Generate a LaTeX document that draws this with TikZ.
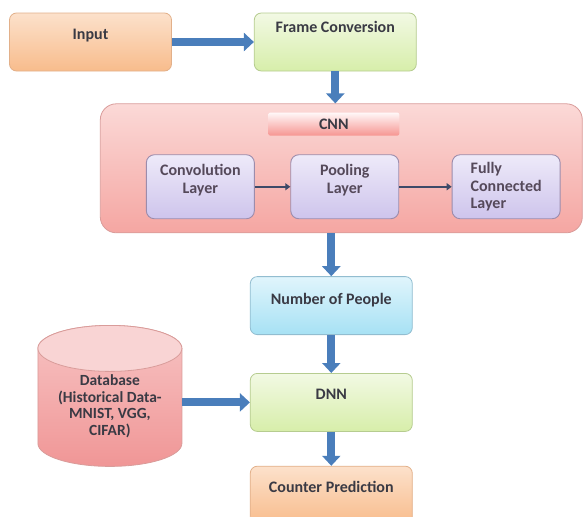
\documentclass[tikz,border=0pt]{standalone}
\usepackage{fontspec}
\setmainfont{Carlito}
\usetikzlibrary{positioning}
\usetikzlibrary{arrows.meta}
\usetikzlibrary{backgrounds}
\definecolor{textgray}{HTML}{3A3A44}
\definecolor{layertext}{HTML}{55495A}
\definecolor{flowblue}{HTML}{4A7EBB}
\definecolor{linkgray}{HTML}{3E4A68}
\definecolor{peachtop}{HTML}{FCE1CB}
\definecolor{peachbot}{HTML}{F8BC8C}
\definecolor{peachline}{HTML}{E2B08A}
\definecolor{greentop}{HTML}{F2F9E4}
\definecolor{greenbot}{HTML}{D7EEAA}
\definecolor{greenline}{HTML}{B6CC90}
\definecolor{skytop}{HTML}{E0F5FC}
\definecolor{skybot}{HTML}{A6E1F4}
\definecolor{skyline}{HTML}{92BDD0}
\definecolor{pinktop}{HTML}{FBD9D7}
\definecolor{pinkbot}{HTML}{F5A6A2}
\definecolor{pinkline}{HTML}{D99C9A}
\definecolor{dbtop}{HTML}{F9D4D4}
\definecolor{dbbody}{HTML}{F7C4C4}
\definecolor{dbbot}{HTML}{F09696}
\definecolor{lavtop}{HTML}{EEEAF9}
\definecolor{lavbot}{HTML}{CEC4EC}
\definecolor{lavline}{HTML}{9C8CAC}
\tikzset{every node/.style={align=center, text=textgray,
    font=\fontsize{16}{17.5}\selectfont\bfseries},
  box/.style={ % Sets the properties for each step box
    rounded corners=7pt, line width=0.8pt,
    minimum width=162pt, minimum height=58pt,
    inner xsep=0pt, inner ysep=0pt,
    text height=26pt, text depth=32pt},
  orangebox/.style={box, draw=peachline,
    top color=peachtop, bottom color=peachbot},
  greenbox/.style={box, draw=greenline,
    top color=greentop, bottom color=greenbot},
  bluebox/.style={box, draw=skyline,
    top color=skytop, bottom color=skybot},
  cnnbox/.style={ % Large container of the CNN stage
    rounded corners=16pt, line width=0.8pt, draw=pinkline,
    top color=pinktop, bottom color=pinkbot,
    minimum width=482pt, minimum height=129pt},
  cnnlabel/.style={rounded corners=2pt,
    top color=red!3, bottom color=pinkbot!90!red,
    minimum width=131pt, minimum height=23pt, inner sep=0pt},
  layer/.style={ % Boxes for the layers inside the CNN
    rounded corners=8pt, line width=0.9pt, draw=lavline,
    top color=lavtop, bottom color=lavbot,
    minimum width=108pt, minimum height=64pt, inner sep=2pt,
    text=layertext},
  dbtext/.style={ % Text area of the database drum
    minimum width=144pt, minimum height=141pt, inner sep=0pt, outer sep=0pt,
    font=\fontsize{15.5}{16.5}\selectfont\bfseries,
    text height=110pt, text depth=31pt},
  dbdrum/.style={line width=0.8pt, draw=pinkline,
    top color=dbbody, bottom color=dbbot},
  dblid/.style={line width=0.8pt, draw=pinkline, fill=dbtop},
  flow/.style={ % Thick block arrows between the steps
    draw=flowblue, line width=8pt, -{Triangle[length=10pt,width=18pt]}},
  link/.style={draw=linkgray, line width=2.5pt,
    -{Triangle[length=5pt,width=7pt]}}}
\begin{document}
\begin{tikzpicture}
  \useasboundingbox (0pt,0pt) rectangle (584pt,-517pt);

  \node [orangebox] (input) at (90.5pt,-42pt) {Input};
  \node [greenbox, right=82pt of input, text height=19pt, text depth=39pt] (frame) {Frame Conversion};

  \node [cnnbox, below=32pt of frame, xshift=6pt] (cnn) {};
  \node [cnnlabel, below=9pt of cnn.north, xshift=-7.5pt] (cnnlabel) {CNN};
  \node [layer, text depth=16pt, above right=14pt and 46pt of cnn.south west] (conv) {Convolution\\Layer};
  \node [layer, text depth=16pt, right=35.5pt of conv] (pool) {Pooling\\Layer};
  \node [layer, right=52.5pt of pool, align=left] (fc) {Fully\\Connected\\Layer};

  \node [bluebox, below=43pt of cnn, xshift=-10pt, text height=27pt, text depth=30pt] (people) {Number of People};
  \node [greenbox, below=38pt of people] (dnn) {DNN};
  \node [orangebox, below=34pt of dnn] (counter) {Counter Prediction};
  \node [dbtext, left=68pt of dnn, yshift=6.5pt] (db) {Database\\(Historical Data-\\MNIST, VGG,\\CIFAR)};

  % drum of the database behind its text
  \begin{pgfonlayer}{background}
    \draw[dbdrum] ([yshift=-23pt]db.north west) -- ([yshift=23pt]db.south west)
      arc [start angle=180, end angle=360, x radius=72pt, y radius=23pt]
      -- ([yshift=-23pt]db.north east)
      arc [start angle=0, end angle=180, x radius=72pt, y radius=23pt] -- cycle;
    \draw[dblid] ([yshift=-23pt]db.north) ellipse [x radius=72pt, y radius=23pt];
  \end{pgfonlayer}

  \draw[flow] (input) -- (frame);
  \draw[flow] (frame) -- (frame |- cnn.north);
  \draw[link] (conv) -- (pool);
  \draw[link] (pool) -- (fc);
  \draw[flow] (people |- cnn.south) -- (people);
  \draw[flow] (people) -- (dnn);
  \draw[flow] (db.east |- dnn) -- (dnn);
  \draw[flow] (dnn) -- (counter);
\end{tikzpicture}
\end{document}
